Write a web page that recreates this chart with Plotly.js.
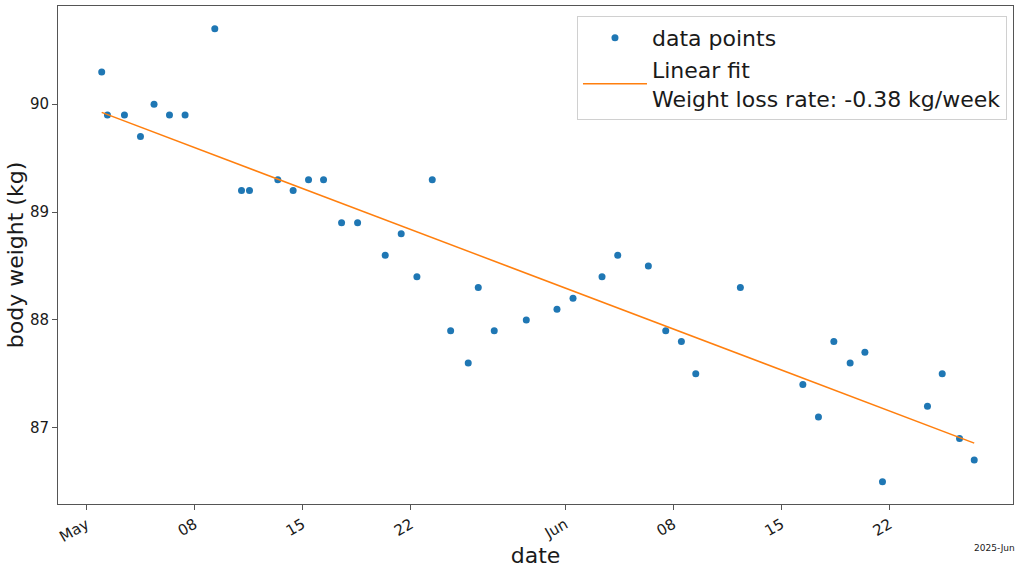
<!DOCTYPE html>
<html>
<head>
<meta charset="utf-8">
<script src="https://cdn.plot.ly/plotly-3.0.1.min.js"></script>
<style>
html,body{margin:0;padding:0;background:#fff;}
#chart{width:1024px;height:573px;}
</style>
</head>
<body>
<div id="chart"></div>
<script>
const dates = [
  '2025-05-01 23:45','2025-05-02 08:40','2025-05-03 11:05','2025-05-04 12:00','2025-05-05 09:05',
  '2025-05-06 09:05','2025-05-07 09:20','2025-05-09 07:30','2025-05-11 01:00','2025-05-11 13:25',
  '2025-05-13 09:25','2025-05-14 09:15','2025-05-15 09:10','2025-05-16 08:30','2025-05-17 12:30',
  '2025-05-18 13:25','2025-05-20 08:20','2025-05-21 09:10','2025-05-22 09:35','2025-05-23 09:25',
  '2025-05-24 14:00','2025-05-25 17:20','2025-05-26 08:55','2025-05-27 09:45','2025-05-29 11:35',
  '2025-05-31 11:15','2025-06-01 12:10','2025-06-03 09:15','2025-06-04 09:40','2025-06-06 09:15',
  '2025-06-07 12:15','2025-06-08 12:35','2025-06-09 10:55','2025-06-12 08:15','2025-06-16 09:20',
  '2025-06-17 09:35','2025-06-18 09:30','2025-06-19 10:50','2025-06-20 09:45','2025-06-21 13:05',
  '2025-06-24 11:00','2025-06-25 09:55','2025-06-26 12:50','2025-06-27 11:40'
];
const weights = [
  90.3, 89.9, 89.9, 89.7, 90.0,
  89.9, 89.9, 90.7, 89.2, 89.2,
  89.3, 89.2, 89.3, 89.3, 88.9,
  88.9, 88.6, 88.8, 88.4, 89.3,
  87.9, 87.6, 88.3, 87.9, 88.0,
  88.1, 88.2, 88.4, 88.6, 88.5,
  87.9, 87.8, 87.5, 88.3, 87.4,
  87.1, 87.8, 87.6, 87.7, 86.5,
  87.2, 87.5, 86.9, 86.7
];
const tickDates = ['2025-05-01','2025-05-08','2025-05-15','2025-05-22','2025-06-01','2025-06-08','2025-06-15','2025-06-22'];
const tickLabels = ['May','08','15','22','Jun','08','15','22'];
const yTicks = [87, 88, 89, 90];
const fitLabel = 'Linear fit<br>Weight loss rate: -0.38 kg/week';
const offsetLabel = '2025-Jun';

// least-squares linear fit on the data
function toMs(s){ return new Date(s.replace(' ','T')+':00Z').getTime(); }
const xs = dates.map(d => toMs(d) / 86400000);
const n = xs.length;
const mx = xs.reduce((a,b)=>a+b,0)/n;
const my = weights.reduce((a,b)=>a+b,0)/n;
let sxy = 0, sxx = 0;
for (let i=0;i<n;i++){ sxy += (xs[i]-mx)*(weights[i]-my); sxx += (xs[i]-mx)*(xs[i]-mx); }
const slope = sxy/sxx;
const icpt = my - slope*mx;
const fitY = xs.map(x => icpt + slope*x);

const font = 'DejaVu Sans, sans-serif';
const axisColor = '#555';

const traces = [
  {
    x: dates, y: weights, type: 'scatter', mode: 'markers', name: 'data points',
    marker: {color: '#1f77b4', size: 7}
  },
  {
    x: dates, y: fitY, type: 'scatter', mode: 'lines', name: fitLabel,
    line: {color: '#ff7f0e', width: 1.5}
  }
];

const layout = {
  width: 1024, height: 573,
  margin: {l: 58, r: 11, t: 6, b: 69},
  paper_bgcolor: '#fff', plot_bgcolor: '#fff',
  font: {family: font, color: '#1a1a1a'},
  showlegend: true,
  xaxis: {
    type: 'date',
    range: ['2025-04-29 03:50', '2025-06-29 23:55'],
    tickmode: 'array', tickvals: tickDates, ticktext: tickLabels,
    tickangle: -30, tickfont: {size: 15, family: font, color: '#1a1a1a'},
    ticks: 'outside', ticklen: 5, tickcolor: axisColor,
    showgrid: false, zeroline: false,
    showline: true, linecolor: axisColor, linewidth: 1, mirror: true,
    title: {text: 'date', font: {size: 22, family: font, color: '#1a1a1a'}, standoff: 0}
  },
  yaxis: {
    range: [86.293, 90.911],
    tickmode: 'array', tickvals: yTicks, ticktext: yTicks.map(String),
    tickfont: {size: 15, family: font, color: '#1a1a1a'},
    ticks: 'outside', ticklen: 5, tickcolor: axisColor,
    showgrid: false, zeroline: false,
    showline: true, linecolor: axisColor, linewidth: 1, mirror: true,
    title: {text: 'body weight (kg)', font: {size: 22, family: font, color: '#1a1a1a'}, standoff: 0}
  },
  legend: {
    x: 0.9937, y: 0.98, xanchor: 'right', yanchor: 'top',
    bgcolor: 'rgba(255,255,255,0.8)', bordercolor: '#d0d0d0', borderwidth: 1,
    font: {size: 22, family: font, color: '#1a1a1a'},
    itemwidth: 64
  },
  annotations: [
    {
      text: offsetLabel, xref: 'paper', yref: 'paper', x: 1.0045, y: -0.0877,
      xanchor: 'right', yanchor: 'middle', showarrow: false,
      font: {size: 9, family: font, color: '#1a1a1a'}
    }
  ]
};

Plotly.newPlot('chart', traces, layout, {displayModeBar: false, staticPlot: true});
</script>
</body>
</html>
